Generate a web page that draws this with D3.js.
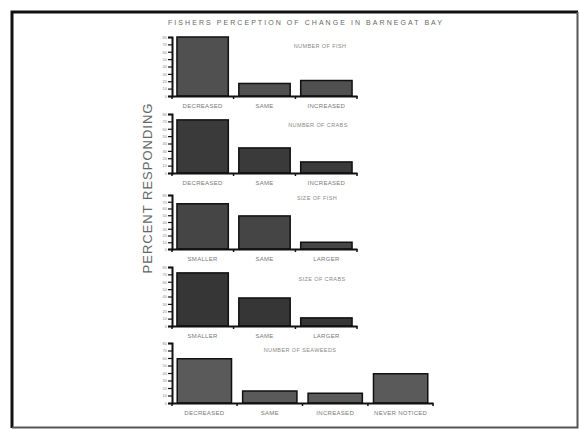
<!DOCTYPE html>
<html><head><meta charset="utf-8">
<script src="https://cdn.jsdelivr.net/npm/d3@7"></script>
<style>body{margin:0;background:#fff}svg{display:block}text{font-family:"Liberation Sans",Arial,sans-serif}</style>
</head><body><svg id="c" width="579" height="429"></svg>
<script>
const chartTitle = "FISHERS PERCEPTION OF CHANGE  IN BARNEGAT BAY";
const yTitle = "PERCENT RESPONDING";
const panelTitles = ["NUMBER OF FISH","NUMBER OF CRABS","SIZE OF FISH","SIZE OF CRABS","NUMBER OF SEAWEEDS"];
const catsNumber = ["DECREASED","SAME","INCREASED"];
const catsSize = ["SMALLER","SAME","LARGER"];
const catsSeaweed = ["DECREASED","SAME","INCREASED","NEVER NOTICED"];
const fishNumber = [80,17,21];
const crabNumber = [72,34,15];
const fishSize = [67,49,10];
const crabSize = [72,38,11];
const seaweedNumber = [59,16,13,39];
const yTicks = [0,10,20,30,40,50,60,70,80];

const svg = d3.select("#c");
// frame: dark top/left, grey bottom/right
svg.append("path").attr("d","M12,428 V12 H578").attr("fill","none").attr("stroke","#111").attr("stroke-width",3);
svg.append("path").attr("d","M12,427.5 H577.5 V12").attr("fill","none").attr("stroke","#555").attr("stroke-width",2);

svg.append("text").attr("x",168).attr("y",25).attr("textLength",274).attr("lengthAdjust","spacing")
  .attr("font-size",7).attr("fill","#666").text(chartTitle);

svg.append("text").attr("transform","translate(152,188) rotate(-90)")
  .attr("text-anchor","middle").attr("font-size",13).attr("letter-spacing",1)
  .attr("fill","#666").text(yTitle);

const panels = [
  {title:panelTitles[0], cats:catsNumber, vals:fishNumber, top:37, base:96, xEnd:357, tx:320, ty:48, fill:"#505050"},
  {title:panelTitles[1], cats:catsNumber, vals:crabNumber, top:114, base:173, xEnd:357, tx:318, ty:127, fill:"#3a3a3a"},
  {title:panelTitles[2], cats:catsSize, vals:fishSize, top:195, base:249, xEnd:357, tx:317, ty:200, fill:"#454545"},
  {title:panelTitles[3], cats:catsSize, vals:crabSize, top:267, base:326, xEnd:357, tx:322, ty:281, fill:"#363636"},
  {title:panelTitles[4], cats:catsSeaweed, vals:seaweedNumber, top:343, base:403, xEnd:433, tx:300, ty:352, fill:"#5a5a5a"}
];
const x0 = 172;

panels.forEach(p => {
  const g = svg.append("g");
  const x = d3.scaleBand().domain(p.cats).range([x0, p.xEnd]).paddingInner(0.17).paddingOuter(0.08);
  const y = d3.scaleLinear().domain([0, 80]).range([p.base, p.top]);

  g.selectAll("rect.bar").data(p.vals).join("rect").attr("class","bar")
    .attr("x",(d,i)=>x(p.cats[i])).attr("width",x.bandwidth())
    .attr("y",d=>y(d)).attr("height",d=>p.base-y(d))
    .attr("fill",p.fill).attr("stroke","#111").attr("stroke-width",1.5);

  const ya = d3.axisLeft(y).tickValues(yTicks).tickSize(4).tickFormat(d3.format("d"));
  const yg = g.append("g").attr("transform",`translate(${x0},0)`).call(ya);
  yg.select(".domain").attr("stroke","#111").attr("stroke-width",2);
  yg.selectAll(".tick line").attr("stroke","#111").attr("stroke-width",1.2);
  yg.selectAll(".tick text").attr("font-size",4).attr("fill","#888").attr("x",-5);

  const xa = d3.axisBottom(x).tickSize(0).tickPadding(8);
  const xg = g.append("g").attr("transform",`translate(0,${p.base})`).call(xa);
  xg.select(".domain").attr("stroke","#111").attr("stroke-width",2);
  xg.selectAll(".tick text").attr("font-size",6).attr("fill","#777").attr("letter-spacing",0.3);
  const bounds = p.cats.map((c,i)=> i===0 ? x0 : x(c) - x.step()*x.paddingInner()/2).concat([p.xEnd]);
  g.selectAll("line.bt").data(bounds).join("line").attr("class","bt")
    .attr("x1",d=>d).attr("x2",d=>d).attr("y1",p.base).attr("y2",p.base+3)
    .attr("stroke","#111").attr("stroke-width",1.5);

  g.append("text").attr("x",p.tx).attr("y",p.ty).attr("text-anchor","middle")
    .attr("font-size",5.5).attr("letter-spacing",0.4).attr("fill","#888").text(p.title);
});
</script></body></html>
